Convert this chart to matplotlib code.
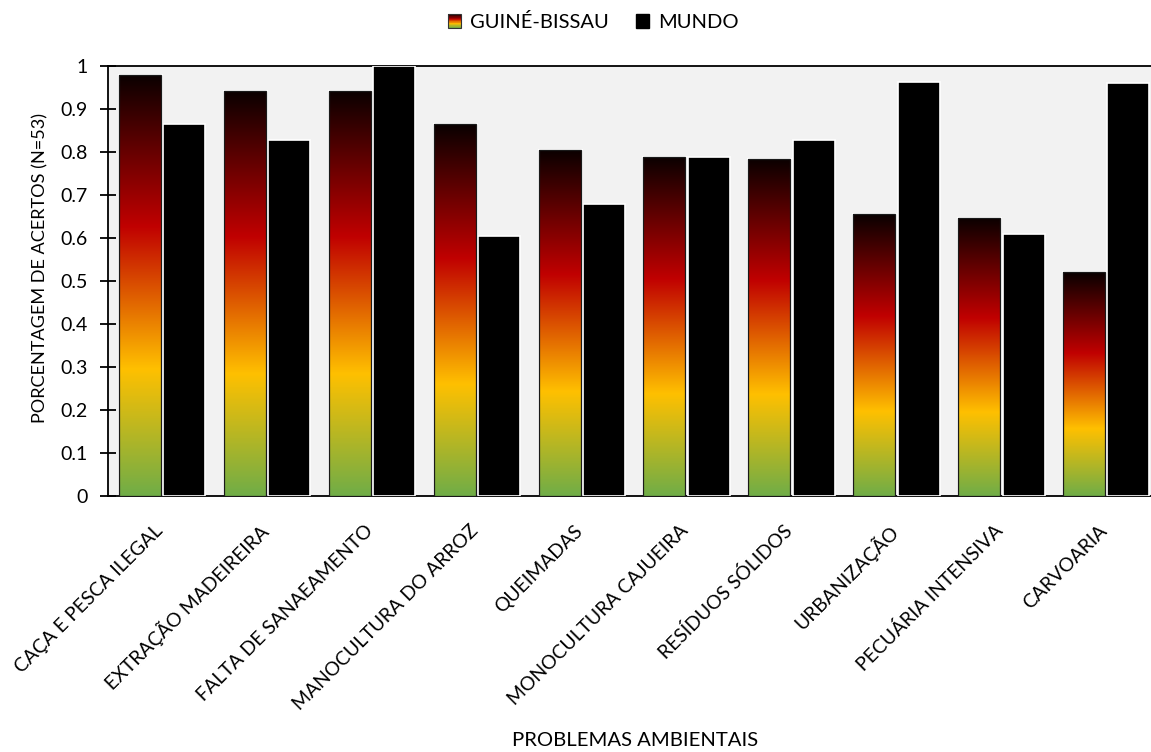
import numpy as np
import matplotlib
matplotlib.use("Agg")
import matplotlib.pyplot as plt
from matplotlib.colors import LinearSegmentedColormap
from matplotlib.patches import Rectangle
from matplotlib.legend_handler import HandlerBase

plt.rcParams['font.family'] = ['Lato', 'DejaVu Sans']

categories = [
    "CAÇA E PESCA ILEGAL", "EXTRAÇÃO MADEIREIRA", "FALTA DE SANAEAMENTO",
    "MANOCULTURA DO ARROZ", "QUEIMADAS", "MONOCULTURA CAJUEIRA",
    "RESÍDUOS SÓLIDOS", "URBANIZAÇÃO", "PECUÁRIA INTENSIVA", "CARVOARIA",
]
guine_bissau = [0.98, 0.943, 0.943, 0.865, 0.805, 0.789, 0.784, 0.655, 0.647, 0.52]
mundo = [0.865, 0.827, 1.0, 0.604, 0.68, 0.789, 0.827, 0.962, 0.609, 0.96]
y_ticks = [0, 0.1, 0.2, 0.3, 0.4, 0.5, 0.6, 0.7, 0.8, 0.9, 1]
y_tick_labels = ["0", "0.1", "0.2", "0.3", "0.4", "0.5", "0.6", "0.7", "0.8", "0.9", "1"]

# Flag-like vertical gradient: green -> gold -> red -> black
grad_cmap = LinearSegmentedColormap.from_list(
    "gb", [(0.0, "#70ad47"), (0.30, "#ffc000"), (0.64, "#c00000"), (1.0, "#0a0000")]
)
gradient = np.linspace(0, 1, 256).reshape(-1, 1)

DPI = 100
fig = plt.figure(figsize=(11.51, 7.52), dpi=DPI)
renderer = fig.canvas.get_renderer()


def size_for_width(text, width_px, base=12.0):
    """Font size (pt) at which `text` spans about `width_px` pixels."""
    t = fig.text(0, 0, text, fontsize=base)
    w = t.get_window_extent(renderer=renderer).width
    t.remove()
    return base * width_px / w


fs_ticks_x = size_for_width(categories[0], 200)
fs_ticks_y = size_for_width("0.9", 27)
fs_legend = size_for_width("GUINÉ-BISSAU", 138)
fs_xlabel = size_for_width("PROBLEMAS AMBIENTAIS", 245)
fs_ylabel = size_for_width("PORCENTAGEM DE ACERTOS (N=53)", 310)

ax = fig.add_axes([0.0938, 0.3404, 0.9114, 0.5718])
ax.set_facecolor("#f2f2f2")

x = np.arange(len(categories))
width = 0.40
gb_pos = x - 0.195
mundo_pos = x + 0.228

for xc, v in zip(gb_pos, guine_bissau):
    left = xc - width / 2
    ax.bar(xc, v, width, color="none", edgecolor="white", linewidth=2.2, zorder=2)
    im = ax.imshow(gradient, cmap=grad_cmap, origin="lower", aspect="auto",
                   extent=(left, left + width, 0, v), zorder=3, interpolation="bilinear")
    outline = Rectangle((left, 0), width, v, facecolor="none", edgecolor="#1a1a1a",
                        linewidth=0.9, zorder=4)
    ax.add_patch(outline)
    im.set_clip_path(outline)

ax.bar(mundo_pos, mundo, width, color="black", edgecolor="white", linewidth=1.2, zorder=3)

ax.set_xlim(-0.5, len(categories) - 0.5)
ax.set_ylim(0, 1)
ax.set_yticks(y_ticks)
ax.set_yticklabels(y_tick_labels, fontsize=fs_ticks_y)
ax.tick_params(axis="y", direction="inout", length=11.5, width=1.3, pad=9)
ax.set_xticks(x)
ax.set_xticklabels(categories, rotation=45, ha="right", va="center",
                   rotation_mode="anchor", fontsize=fs_ticks_x)
ax.tick_params(axis="x", length=0, pad=23)

for side in ["left", "bottom", "top"]:
    ax.spines[side].set_linewidth(1.3)
    ax.spines[side].set_color("black")
ax.spines["right"].set_visible(False)

fig.text(40 / 1151, 1 - 268 / 752, "PORCENTAGEM DE ACERTOS (N=53)", rotation=90,
         ha="center", va="center", fontsize=fs_ylabel)
fig.text(635.5 / 1151, 1 - 741 / 752, "PROBLEMAS AMBIENTAIS", ha="center", va="center",
         fontsize=fs_xlabel)


class GradientHandler(HandlerBase):
    def create_artists(self, legend, orig_handle, xdescent, ydescent, width, height,
                       fontsize, trans):
        n = 24
        artists = []
        for i in range(n):
            r = Rectangle((-xdescent, -ydescent + height * i / n), width, height / n + 0.05,
                          facecolor=grad_cmap((i + 0.5) / n), edgecolor="none",
                          transform=trans)
            artists.append(r)
        artists.append(Rectangle((-xdescent, -ydescent), width, height, facecolor="none",
                                 edgecolor="#333333", linewidth=0.8, transform=trans))
        return artists


fs_px = fs_legend * DPI / 72
gb_handle = Rectangle((0, 0), 1, 1)
mundo_handle = Rectangle((0, 0), 1, 1, facecolor="black", edgecolor="black")
fig.legend([gb_handle, mundo_handle], ["GUINÉ-BISSAU", "MUNDO"],
           handler_map={gb_handle: GradientHandler()},
           loc="center left", bbox_to_anchor=(448 / 1151, 1 - 22 / 752), ncol=2,
           frameon=False, fontsize=fs_legend, borderpad=0, borderaxespad=0,
           handlelength=13 / fs_px, handleheight=13 / fs_px,
           handletextpad=9 / fs_px, columnspacing=27 / fs_px)

fig.savefig("out.png", dpi=DPI)
